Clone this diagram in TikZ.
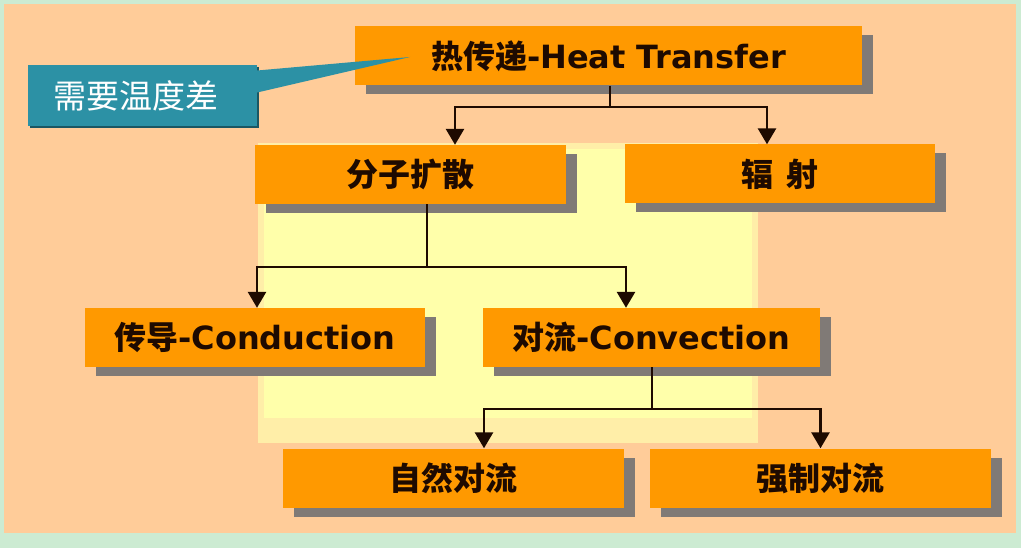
\documentclass[tikz,border=0pt]{standalone}
\usepackage{fontspec}
\setmainfont{DejaVu Sans}
\newfontfamily\cjk{Noto Sans CJK SC}
\usetikzlibrary{arrows.meta,shadows}
\definecolor{frame}{RGB}{204,235,210}
\definecolor{peach}{RGB}{255,204,153}
\definecolor{glow}{RGB}{255,255,170}
\definecolor{glowedge}{RGB}{255,238,168}
\definecolor{boxfill}{RGB}{255,153,0}
\definecolor{boxshadow}{RGB}{128,122,118}
\definecolor{tealbox}{RGB}{44,145,165}
\definecolor{ink}{RGB}{30,10,0}
\tikzset{>/.tip={Triangle[width=18pt,length=16pt]},
  box/.style={fill=boxfill, text=ink, inner sep=0pt, minimum height=59pt,
    font=\fontsize{32}{36}\selectfont\bfseries,
    drop shadow={shadow xshift=11pt, shadow yshift=-9pt, fill=boxshadow, opacity=1}},
  note/.style={fill=tealbox, text=white, inner sep=0pt, minimum width=229pt, minimum height=61pt,
    font=\fontsize{33}{36}\selectfont,
    drop shadow={shadow xshift=2pt, shadow yshift=-2pt, fill=tealbox!60!black, opacity=1}},
  link/.style={draw=ink, line width=2.8pt}}
\newcommand{\zh}[1]{{\cjk #1}}

\begin{document}
\begin{tikzpicture}[x=1pt,y=-1pt]
\useasboundingbox (0,0) rectangle (1021,548);
\fill[frame] (0,0) rectangle (1021,548);
\fill[peach] (4,4) rectangle (1016,533);
\fill[glowedge] (258,143) rectangle (758,443);
\fill[glow] (264,149) rectangle (752,418);

\node[note] (temp) at (142.5,95.5) {\zh{需要温度差}\hspace*{14pt}};

\node[box, minimum width=507pt] (heat) at (608.5,56) {\zh{热传递}-Heat Transfer};
\node[box, minimum width=311pt] (mol) at (410.5,174.5) {\zh{分子扩散}};
\node[box, minimum width=310pt] (rad) at (780,174) {\zh{辐\hspace{0.4em}射}};
\node[box, minimum width=340pt] (cond) at (255,337.5) {\zh{传导}-Conduction};
\node[box, minimum width=337pt] (conv) at (651.5,337.5) {\zh{对流}-Convection};
\node[box, minimum width=341pt] (nat) at (453.5,478) {\zh{自然对流}};
\node[box, minimum width=341pt] (forced) at (820.5,478) {\zh{强制对流}};

\coordinate (tip) at (410,57);
\coordinate (j1) at (610,107);
\coordinate (j2) at (427,267);
\coordinate (j3) at (652,409);

\fill[tealbox] ([yshift=25pt]temp.east) -- (tip) -- ([yshift=3pt]temp.east) -- cycle;

\draw[link] (heat.south -| j1) -- (j1);
\draw[link,->] (j1) -| ([xshift=44.5pt]mol.north);
\draw[link,->] (j1) -| ([xshift=-13pt]rad.north);
\draw[link] (mol.south -| j2) -- (j2);
\draw[link,->] (j2) -| ([xshift=2pt]cond.north);
\draw[link,->] (j2) -| ([xshift=-25.5pt]conv.north);
\draw[link] (conv.south -| j3) -- (j3);
\draw[link,->] (j3) -| ([xshift=30.5pt]nat.north);
\draw[link,->] (j3) -| (forced.north);
\end{tikzpicture}
\end{document}
